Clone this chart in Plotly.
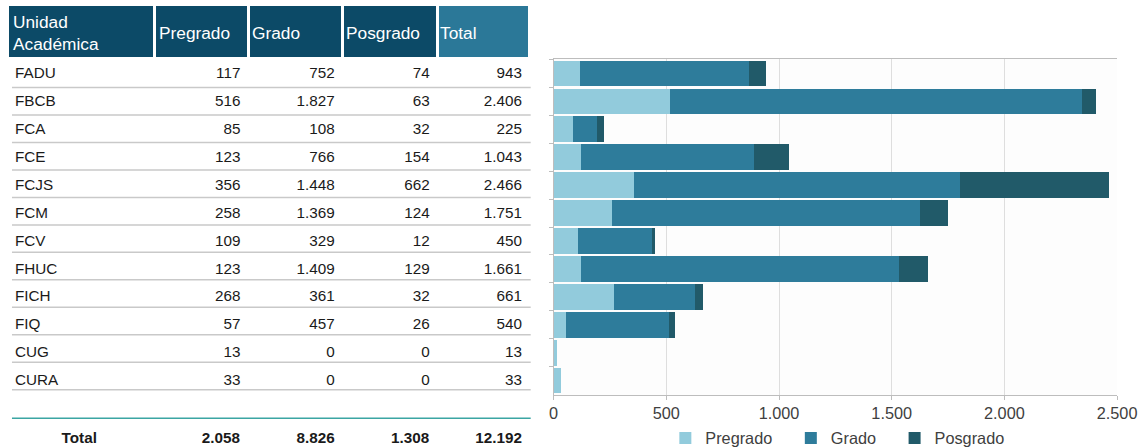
import plotly.graph_objects as go

units = ["FADU", "FBCB", "FCA", "FCE", "FCJS", "FCM", "FCV", "FHUC", "FICH", "FIQ", "CUG", "CURA"]
pregrado = [117, 516, 85, 123, 356, 258, 109, 123, 268, 57, 13, 33]
grado = [752, 1827, 108, 766, 1448, 1369, 329, 1409, 361, 457, 0, 0]
posgrado = [74, 63, 32, 154, 662, 124, 12, 129, 32, 26, 0, 0]

header_labels = ["Unidad<br>Académica", "Pregrado", "Grado", "Posgrado", "Total"]
series_names = ["Pregrado", "Grado", "Posgrado"]
x_ticks = [0, 500, 1000, 1500, 2000, 2500]

# design grid (target picture) and the figure size that is drawn
W, H = 1144, 448
FW, FH = 1164, 456
S = FW / W
C_PRE, C_GRA, C_POS = "#92cbdc", "#2e7c9b", "#215a69"
HDR_DARK, HDR_TOTAL = "#0c4a67", "#2b7898"
FONT = "Liberation Sans, Arial"


def fmt(v):
    return f"{v:,}".replace(",", ".")


totals = [a + b + c for a, b, c in zip(pregrado, grado, posgrado)]
n = len(units)

col0 = units + ["", "\u00a0" * 11 + "<b>Total</b>"]
cols = [col0]
for s in (pregrado, grado, posgrado, totals):
    cols.append([fmt(v) for v in s] + ["", "<b>" + fmt(sum(s)) + "</b>"])

fig = go.Figure()

tbl_left, tbl_right = 7, 528
col_w = [146.5, 94, 94, 94.5, 92]
hdr_top, hdr_h, row_h = 6, 54, 27.4
fig.add_trace(go.Table(
    domain=dict(x=[(tbl_left - 5) / W, tbl_right / W], y=[0, 1 - (hdr_top - 2) / H]),
    columnwidth=col_w,
    header=dict(
        values=[""] * 5,
        fill_color=[HDR_DARK, HDR_DARK, HDR_DARK, HDR_DARK, HDR_TOTAL],
        line=dict(color="white", width=3 * S),
        font=dict(family=FONT, size=16 * S, color="white"),
        align="left",
        height=hdr_h * S,
    ),
    cells=dict(
        values=cols,
        fill_color="white",
        line=dict(color="white", width=1),
        font=dict(family=FONT, size=15 * S, color="#1a1a1a"),
        align=["left", "right", "right", "right", "right"],
        height=row_h * S,
    ),
))

legend_names = [series_names[0] + "\u00a0" * 3, series_names[1] + "\u00a0" * 3, series_names[2]]
for name, vals, col in zip(legend_names, [pregrado, grado, posgrado], [C_PRE, C_GRA, C_POS]):
    fig.add_trace(go.Bar(
        name=name, y=units, x=vals, orientation="h",
        marker=dict(color=col, line=dict(width=0)),
        xaxis="x", yaxis="y",
    ))

# header labels, vertically centred in the header band
annotations = []
x_left = tbl_left
for lab, w in zip(header_labels, col_w):
    annotations.append(dict(text=lab, xref="paper", yref="paper",
                            x=(x_left - 1) / W, y=1 - (hdr_top + hdr_h / 2) / H,
                            xanchor="left", yanchor="middle", align="left",
                            showarrow=False,
                            font=dict(family=FONT, size=17 * S, color="white")))
    x_left += w

# row separators of the table
shapes = []
y0 = hdr_top + hdr_h
for k in range(1, n + 1):
    yy = y0 + row_h * k
    shapes.append(dict(type="line", xref="paper", yref="paper",
                       x0=tbl_left / W, x1=tbl_right / W,
                       y0=1 - yy / H, y1=1 - yy / H,
                       line=dict(color="#c9c9c9", width=1.5)))
yy = y0 + row_h * (n + 1) + 1
shapes.append(dict(type="line", xref="paper", yref="paper",
                   x0=tbl_left / W, x1=tbl_right / W,
                   y0=1 - yy / H, y1=1 - yy / H,
                   line=dict(color="#3ba5a3", width=1.5)))

fig.update_layout(
    width=FW, height=FH, autosize=False,
    margin=dict(l=0, r=0, t=0, b=0),
    paper_bgcolor="white", plot_bgcolor="#fdfdfd",
    separators=",.",
    barmode="stack", bargap=0.1,
    font=dict(family=FONT, size=16 * S, color="#404040"),
    xaxis=dict(domain=[551 / W, 1117 / W], range=[0, 2500], tickvals=x_ticks,
               tickformat=",d", showgrid=True, gridcolor="#dedede", gridwidth=1,
               showline=True, linecolor="#bdbdbd", mirror=True, ticks="outside",
               ticklen=4 * S, tickcolor="#bdbdbd", zeroline=False, anchor="y",
               tickfont=dict(size=16 * S, color="#404040")),
    yaxis=dict(domain=[1 - 394 / H, 1 - 59 / H], autorange="reversed",
               showticklabels=False, ticks="outside", tickson="boundaries",
               ticklen=4 * S, tickcolor="#bdbdbd", showline=True, linecolor="#bdbdbd",
               showgrid=False, anchor="x"),
    legend=dict(orientation="h", x=836 / W, xanchor="center", y=1 - 438 / H,
                yanchor="middle", font=dict(size=16 * S, color="#404040"),
                bgcolor="rgba(0,0,0,0)", traceorder="normal"),
    shapes=shapes,
    annotations=annotations,
    showlegend=True,
)

fig.write_html("out.html", config={"displayModeBar": False},
               post_script="document.body.style.margin='0';")
